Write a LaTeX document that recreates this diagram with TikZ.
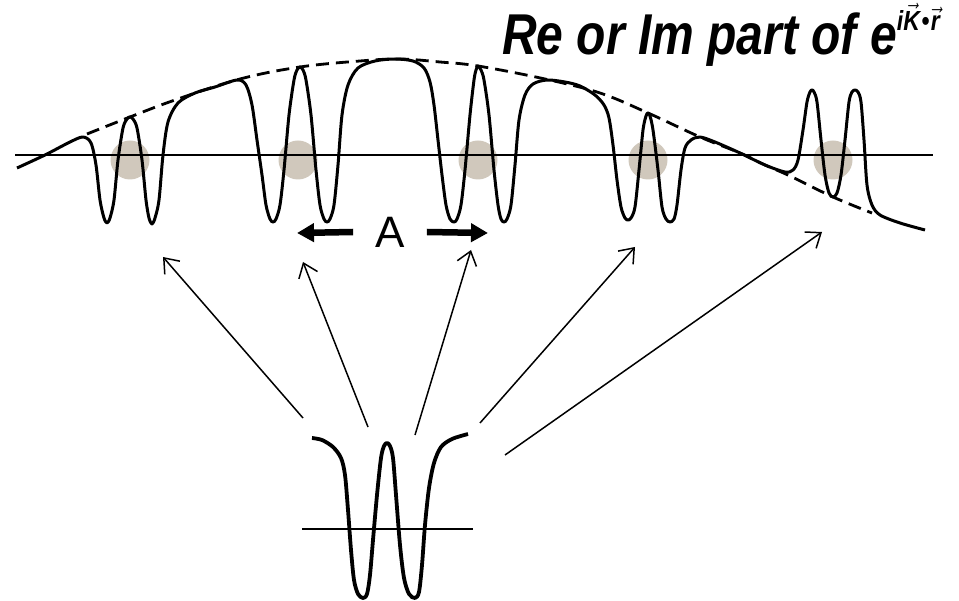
\documentclass[tikz,border=0pt]{standalone}
\usepackage{fontspec}
\setmainfont{Liberation Sans}
\usepackage{graphicx}
\usetikzlibrary{arrows.meta}
\definecolor{blob}{RGB}{208,200,188}

\begin{document}
\begin{tikzpicture}[x=1pt, y=-1pt, every node/.style={inner sep=0pt},
    wave/.style={line width=3pt, line join=round},
    envelope/.style={line width=2.8pt, dash pattern=on 13pt off 7pt},
    ptr/.style={line width=1.5pt, -{Straight Barb[length=13pt,width=20pt,line width=1.5pt]}},
    fat/.style={line width=6.5pt, -{Triangle[length=17pt,width=18pt]}}]
    \useasboundingbox (0,0) rectangle (959,601);
    % atoms
    \foreach \c in {130,298,478,648,833}
        \fill[blob] (\c,160) circle (19.5pt);
    \draw[line width=1.6pt] (15,155) -- (933,155);
    \draw[envelope] plot[smooth, tension=0.6] coordinates {(87,134) (130,117) (175,100) (240,79) (300,67) (360,61) (400,59) (440,62) (478,66) (545,79) (600,93) (648,113) (700,137) (740,153) (765,165) (790,176) (833,197) (872,213)};
    \draw[wave] plot[smooth, tension=0.5] coordinates {(17,168) (45,155) (70,142) (83,137) (91,143) (96,165) (100,200) (104,218) (107,223) (110,218) (114,200) (118,160) (123,128) (127,119) (130,117) (133,119) (137,128) (142,160) (146,200) (149,218) (152,224) (155,218) (159,200) (163,155) (168,122) (178,103) (195,93) (215,87) (237,80) (246,85) (252,105) (257,140) (262,175) (266,205) (270,219) (273,222) (276,219) (280,205) (284,170) (289,115) (294,80) (297,70) (300,67) (303,70) (306,80) (311,115) (316,170) (320,205) (324,219) (327,222) (330,219) (334,205) (338,165) (342,115) (348,85) (358,68) (375,61) (395,59) (413,61) (424,68) (430,82) (434,105) (438,140) (442,175) (446,205) (450,219) (454,222) (457,219) (461,205) (465,170) (470,115) (474,80) (476,70) (478,66) (481,70) (484,80) (489,115) (494,170) (498,205) (501,219) (504,222) (507,219) (511,205) (515,165) (519,120) (525,95) (533,84) (547,80) (565,82) (580,86) (595,95) (604,105) (609,118) (613,145) (617,180) (621,207) (625,218) (628,220) (631,218) (635,207) (639,170) (643,130) (646,116) (648,113) (650,116) (653,130) (658,170) (662,207) (666,219) (670,222) (674,219) (677,205) (681,170) (685,148) (691,140) (700,137) (715,142) (740,153) (765,165) (785,172) (793,170) (798,160) (803,130) (807,102) (810,92) (812,90) (814,92) (817,102) (821,140) (825,175) (829,193) (833,197) (837,193) (841,175) (845,140) (849,102) (852,92) (855,90) (858,92) (861,102) (864,140) (867,185) (872,205) (880,215) (900,223) (925,230)};
    % lattice constant
    \node[font=\fontsize{44}{44}\selectfont] (A) at (390,232) {A};
    \coordinate (Aleft) at (297,233);
    \coordinate (Aright) at (488,233);
    \draw[fat] ([xshift=-22pt]A.west) -- (Aleft);
    \draw[fat] ([xshift=22pt]A.east) -- (Aright);
    % title
    \node[anchor=base west, font=\fontsize{48}{50}\selectfont\bfseries\itshape] (title) at (502,55)
        {\scalebox{1}[1.2]{Re or Im part of e\raisebox{20pt}{\fontsize{23}{23}\selectfont i$\vec{\mbox{K}}$\kern1.5pt•\kern1.5pt$\vec{\mbox{r}}$}}};
    % single atom
    \draw[line width=1.6pt] (302,529) -- (473,529);
    \draw[line width=3.8pt, line join=round] plot[smooth, tension=0.5] coordinates {(312,438) (322,440) (333,447) (341,458) (345,475) (348,510) (351,550) (354,580) (358,594) (363,598) (367,594) (370,575) (373,540) (377,495) (381,458) (384,446) (387,443) (390,446) (393,458) (396,495) (400,545) (404,578) (409,594) (415,598) (419,592) (422,565) (425,525) (429,488) (434,463) (441,447) (452,439) (468,434)};
    \foreach \i/\sx/\sy/\tx/\ty in {1/303/418/163/257, 2/368/427/303/262, 3/415/435/471/250, 4/480/423/635/247, 5/505/455/822/232} {
        \coordinate (s\i) at (\sx,\sy);
        \coordinate (t\i) at (\tx,\ty);
        \draw[ptr] (s\i) -- (t\i);
    }
\end{tikzpicture}
\end{document}
